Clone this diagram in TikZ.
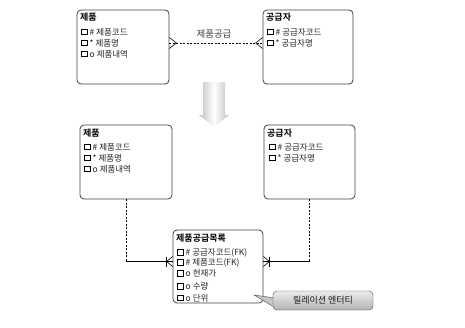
\documentclass[tikz,border=0pt]{standalone}
\usepackage{fontspec}
\newfontfamily\kr{Noto Sans CJK KR}[BoldFont={Noto Sans CJK KR Bold}]
\usetikzlibrary{calc}

\begin{document}
\begin{tikzpicture}[
  x=1pt, y=-1pt,
  every node/.style={font=\kr\fontsize{8.5}{9}\selectfont, inner sep=0pt},
  entity/.style={draw=black!75, line width=0.8pt, rounded corners=4pt,
    minimum width=92pt, minimum height=74pt},
  etitle/.style={anchor=west, font=\kr\bfseries\fontsize{9}{10}\selectfont},
  chk/.style={draw=black, line width=0.6pt, minimum size=5.5pt},
  attr/.style={anchor=west, text=black!85},
  rel/.style={line width=0.6pt, black},
  opt/.style={rel, dash pattern=on 2pt off 1.5pt},
  note/.style={draw=black!70, rounded corners=4pt, top color=gray!15,
    bottom color=gray!60, minimum width=100pt, minimum height=19pt,
    font=\kr\fontsize{9}{10}\selectfont, text=black!90}
]
  \useasboundingbox (0,0) rectangle (465,327);

  % before: product -- supplier
  \node[entity] (pr1) at (123,47) {};
  \node[etitle] (pr1t) at (80,17) {제품};
  \foreach \y/\t [count=\i] in {32/{\# 제품코드}, 43/{* 제품명}, 54/{o 제품내역}} {
    \node[chk] (pr1c\i) at (84.5,\y) {};
    \node[attr] (pr1a\i) at (89.5,\y) {\t};
  }

  \node[entity, minimum width=90pt] (sp1) at (308,47) {};
  \node[etitle] (sp1t) at (266,17) {공급자};
  \foreach \y/\t [count=\i] in {32/{\# 공급자코드}, 43/{* 공급자명}} {
    \node[chk] (sp1c\i) at (270.5,\y) {};
    \node[attr] (sp1a\i) at (275.5,\y) {\t};
  }

  \coordinate (c1) at ($(pr1.east)+(0,-4)$);
  \coordinate (c2) at ($(sp1.west)+(0,-4)$);
  \draw[opt] (c1) -- (c2);
  \draw[rel] ($(c1)+(0,-5.5)$) -- ($(c1)+(7,0)$) -- ($(c1)+(0,5.5)$);
  \draw[rel] ($(c2)+(0,-5.5)$) -- ($(c2)+(-7,0)$) -- ($(c2)+(0,5.5)$);
  \node[font=\kr\fontsize{9.5}{10}\selectfont, text=black!75] (lbl) at (214,34) {제품공급};

  % transformation arrow
  \shade[left color=gray!50, right color=gray!50, middle color=white]
    (203,82) -- (225,82) -- (225,115) -- (229,115) -- (214,127)
    -- (199,115) -- (203,115) -- cycle;

  % after: product -- supply list -- supplier
  \node[entity] (pr2) at (126,162) {};
  \node[etitle] (pr2t) at (83,133) {제품};
  \foreach \y/\t [count=\i] in {147/{\# 제품코드}, 158/{* 제품명}, 169/{o 제품내역}} {
    \node[chk] (pr2c\i) at (87.5,\y) {};
    \node[attr] (pr2a\i) at (92.5,\y) {\t};
  }

  \node[entity, minimum width=91pt] (sp2) at (309.5,162) {};
  \node[etitle] (sp2t) at (267,133) {공급자};
  \foreach \y/\t [count=\i] in {147/{\# 공급자코드}, 158/{* 공급자명}} {
    \node[chk] (sp2c\i) at (272.5,\y) {};
    \node[attr] (sp2a\i) at (277.5,\y) {\t};
  }

  \node[entity, minimum width=90pt, minimum height=73pt] (ln) at (218,266.5) {};
  \node[etitle] (lnt) at (176,238) {제품공급목록};
  \foreach \y/\t [count=\i] in {252.5/{\# 공급자코드(FK)}, 262.5/{\# 제품코드(FK)},
      273.5/{o 현재가}, 286.5/{o 수량}, 298/{o 단위}} {
    \node[chk] (lnc\i) at (180.5,\y) {};
    \node[attr] (lna\i) at (185.5,\y) {\t};
  }

  \coordinate (k1) at ($(ln.west)+(0,-5)$);
  \coordinate (k2) at ($(ln.east)+(0,-5)$);
  \draw[opt] (pr2.south) -- (pr2.south |- k1);
  \draw[rel] (pr2.south |- k1) -- (k1);
  \draw[rel] ($(k1)+(0,-5)$) -- ($(k1)+(-6,0)$) -- ($(k1)+(0,5)$);
  \draw[rel] ($(k1)+(-6,-5)$) -- ($(k1)+(-6,5)$);
  \draw[opt] (sp2.south) -- (sp2.south |- k2);
  \draw[rel] (sp2.south |- k2) -- (k2);
  \draw[rel] ($(k2)+(0,-5)$) -- ($(k2)+(6,0)$) -- ($(k2)+(0,5)$);
  \draw[rel] ($(k2)+(6,-5)$) -- ($(k2)+(6,5)$);

  % callout
  \coordinate (tip) at (254,295);
  \filldraw[draw=black!70, fill=gray!45] (275,298) -- (tip) -- (279,310) -- cycle;
  \node[note] (nt) at (323,300.5) {릴레이션 엔터티};
\end{tikzpicture}
\end{document}
